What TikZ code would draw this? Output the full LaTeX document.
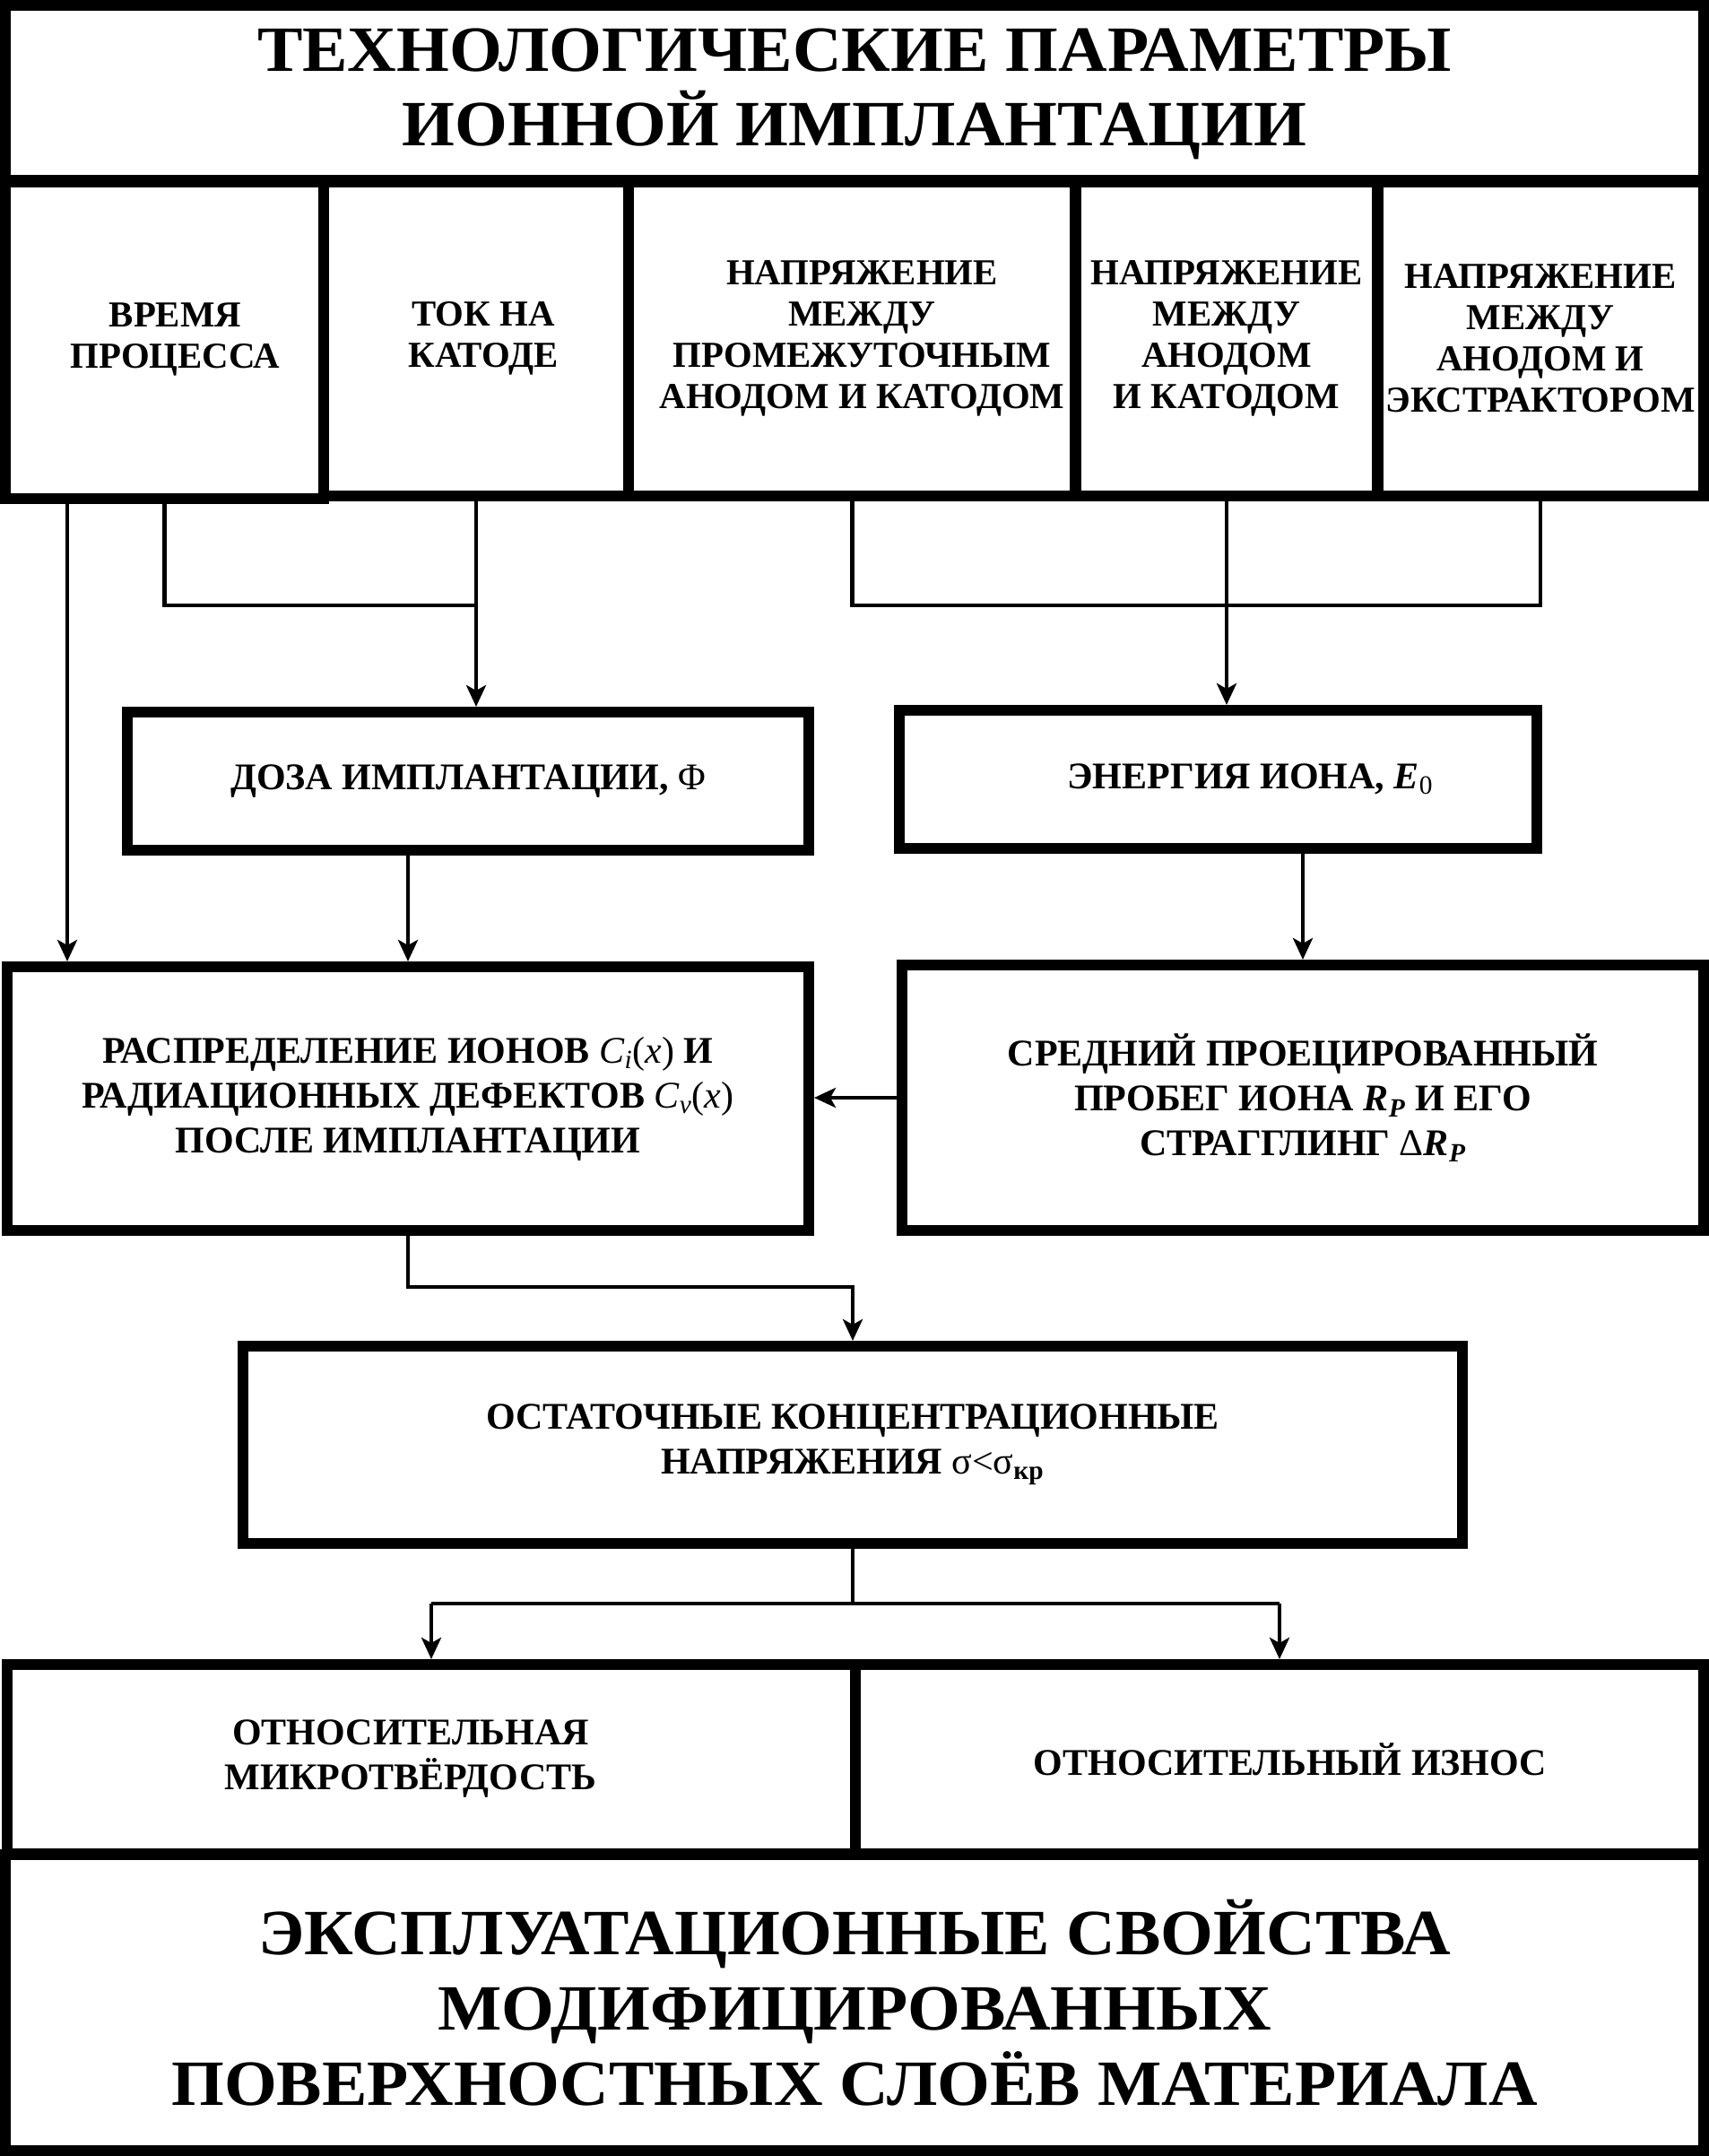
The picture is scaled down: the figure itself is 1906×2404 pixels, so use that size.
\documentclass[tikz,border=0pt]{standalone}
\usepackage{fontspec}
\setmainfont{Liberation Serif}
\newfontfamily\widefont[FakeStretch=1.05]{Liberation Serif}
\usetikzlibrary{arrows.meta}
\begin{document}
\begin{tikzpicture}[x=0.5pt,y=-0.5pt,
  box/.style={draw, line width=6pt, inner sep=0pt, align=center},
  fbig/.style={font=\widefont\fontsize{36}{41.5}\selectfont\bfseries},
  frow/.style={font=\fontsize{20.4}{23}\selectfont\bfseries},
  fmid/.style={font=\fontsize{21}{25}\selectfont\bfseries},
  conn/.style={line width=2.25pt},
  arr/.style={conn, -{Stealth[length=12pt,width=11pt,inset=3pt]}}]
\useasboundingbox (0,0) rectangle (1906,2404);
\fill[white] (0,0) rectangle (1906,2404);
% title
\node[box,fbig,minimum width=947pt,minimum height=98.5pt] (title) at (953,104.5)
  {ТЕХНОЛОГИЧЕСКИЕ ПАРАМЕТРЫ\\ИОННОЙ ИМПЛАНТАЦИИ};
% row of parameters
\node[box,frow,minimum width=177.5pt,minimum height=177.5pt] (b1) at (183.5,378.5)
  {\hspace*{12pt}ВРЕМЯ\\\hspace*{12pt}ПРОЦЕССА};
\node[box,frow,minimum width=170pt,minimum height=176pt] (b2) at (531,377)
  {\hspace*{8pt}ТОК НА\\\hspace*{8pt}КАТОДЕ};
\node[box,frow,minimum width=249.5pt,minimum height=176pt] (b3) at (950.5,377)
  {\hspace*{11pt}НАПРЯЖЕНИЕ\\\hspace*{11pt}МЕЖДУ\\\hspace*{11pt}ПРОМЕЖУТОЧНЫМ\\\hspace*{11pt}АНОДОМ И КАТОДОМ};
\node[box,frow,minimum width=169pt,minimum height=176pt] (b4) at (1368,377)
  {НАПРЯЖЕНИЕ\\МЕЖДУ\\АНОДОМ\\И КАТОДОМ};
\node[box,frow,minimum width=182pt,minimum height=176pt] (b5) at (1718,377)
  {НАПРЯЖЕНИЕ\\МЕЖДУ\\АНОДОМ И\\ЭКСТРАКТОРОМ};
% middle boxes
\node[box,fmid,minimum width=380pt,minimum height=77pt] (doza) at (522,871)
  {ДОЗА ИМПЛАНТАЦИИ, {\mdseries Φ}};
\node[box,fmid,minimum width=355.5pt,minimum height=77pt] (energy) at (1358.5,869)
  {\hspace*{36pt}ЭНЕРГИЯ ИОНА, \textit{E}\textsubscript{\mdseries 0}};
\node[box,fmid,minimum width=447pt,minimum height=147pt] (dist) at (455,1225)
  {РАСПРЕДЕЛЕНИЕ ИОНОВ {\mdseries\textit{C}\textsubscript{\textit{i}}(\textit{x})} И\\
   РАДИАЦИОННЫХ ДЕФЕКТОВ {\mdseries\textit{C}\textsubscript{\textit{v}}(\textit{x})}\\
   ПОСЛЕ ИМПЛАНТАЦИИ};
\node[box,fmid,minimum width=447pt,minimum height=148pt] (sred) at (1453,1224)
  {СРЕДНИЙ ПРОЕЦИРОВАННЫЙ\\ПРОБЕГ ИОНА \textit{R\textsubscript{P}} И ЕГО\\
   СТРАГГЛИНГ {\mdseries Δ}\textit{R\textsubscript{P}}};
\node[box,fmid,minimum width=680pt,minimum height=110pt] (ostat) at (951,1611)
  {ОСТАТОЧНЫЕ КОНЦЕНТРАЦИОННЫЕ\\НАПРЯЖЕНИЯ {\mdseries σ<σ}\textsubscript{кр}};
\node[box,fmid,minimum width=473pt,minimum height=105.5pt] (rel1) at (481,1961.5)
  {ОТНОСИТЕЛЬНАЯ\hspace*{23pt}\\МИКРОТВЁРДОСТЬ\hspace*{23pt}};
\node[box,fmid,minimum width=473pt,minimum height=105.5pt] (rel2) at (1427,1961.5)
  {\hspace*{12pt}ОТНОСИТЕЛЬНЫЙ ИЗНОС};
\node[box,fbig,minimum width=947pt,minimum height=165pt,font=\widefont\fontsize{36}{42}\selectfont\bfseries] (final) at (953,2233)
  {ЭКСПЛУАТАЦИОННЫЕ СВОЙСТВА\\МОДИФИЦИРОВАННЫХ\\ПОВЕРХНОСТНЫХ СЛОЁВ МАТЕРИАЛА};
% helper coordinates
\coordinate (xa) at (75,0);
\coordinate (j1) at (0,675);
\coordinate (gy) at (0,1435);
\coordinate (hy) at (0,1788);
% connectors
\draw[arr] (b1.south -| xa) -- (dist.north -| xa);
\draw[conn] (b1.south) |- (b2.south |- j1);
\draw[arr] (b2.south) -- (b2.south |- doza.north);
\draw[conn] (b3.south) |- (b5.south |- j1) -- (b5.south);
\draw[arr] (b4.south) -- (b4.south |- energy.north);
\draw[arr] (doza.south -| dist.north) -- (dist.north);
\draw[arr] (energy.south -| sred.north) -- (sred.north);
\draw[arr] (sred.west) -- (dist.east |- sred.west);
\draw[arr] (dist.south) |- (ostat.north |- gy) -- (ostat.north);
\draw[conn] (ostat.south) -- (ostat.south |- hy);
\draw[conn] (rel1.north |- hy) -- (rel2.north |- hy);
\draw[arr] (rel1.north |- hy) -- (rel1.north);
\draw[arr] (rel2.north |- hy) -- (rel2.north);
\end{tikzpicture}
\end{document}
